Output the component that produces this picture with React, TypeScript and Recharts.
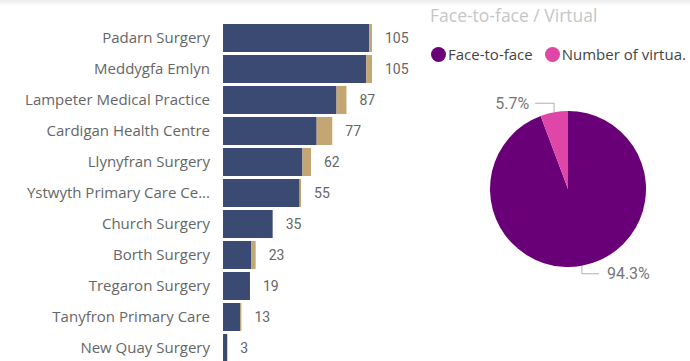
import { BarChart, Bar, XAxis, YAxis, LabelList, PieChart, Pie, Cell, Legend } from "recharts"

const practices = [
  "Padarn Surgery",
  "Meddygfa Emlyn",
  "Lampeter Medical Practice",
  "Cardigan Health Centre",
  "Llynyfran Surgery",
  "Ystwyth Primary Care Ce...",
  "Church Surgery",
  "Borth Surgery",
  "Tregaron Surgery",
  "Tanyfron Primary Care",
  "New Quay Surgery",
]
const faceToFaceCounts = [103, 101, 80, 66, 56, 54, 35, 20, 19, 12, 3]
const virtualCounts = [2, 4, 7, 11, 6, 1, 0, 3, 0, 1, 0]

const pieNames = ["Face-to-face", "Number of virtua."]
const pieValues = [94.3, 5.7]

const NAVY = "#3b4a72"
const TAN = "#c4a673"
const PURPLE = "#6a0078"
const PINK = "#e046a8"
const LABEL_FONT = "Roboto, 'DejaVu Sans', sans-serif"
const TEXT_FONT = "'Open Sans', 'Noto Sans', sans-serif"

const barData = practices.map((name, i) => ({
  name,
  faceToFace: faceToFaceCounts[i],
  virtual: virtualCounts[i],
  total: faceToFaceCounts[i] + virtualCounts[i],
}))

const pieData = pieNames.map((name, i) => ({ name, value: pieValues[i] }))
const pieColors = [PURPLE, PINK]

// total label sits past the whole stack, so scale the navy segment up to the total
function TotalLabel(props: any) {
  const { x, y, width, height, value, index } = props
  const base = faceToFaceCounts[index]
  const endX = base > 0 ? x + (width * value) / base : x + width
  return (
    <text
      x={endX + 13}
      y={y + height / 2}
      dy={5}
      fill="#666"
      fontSize={14}
      fontFamily={LABEL_FONT}
    >
      {value}
    </text>
  )
}

function renderPieLabel(props: any) {
  const { cx, cy, midAngle, outerRadius, percent } = props
  const rad = Math.PI / 180
  const cos = Math.cos(-midAngle * rad)
  const sin = Math.sin(-midAngle * rad)
  const sx = cx + outerRadius * cos
  const sy = cy + outerRadius * sin
  const my = sy + (sin < 0 ? -9 : 8)
  const ex = sx + (cos < 0 ? -19 : 17)
  const tx = ex + (cos < 0 ? -6 : 8)
  return (
    <g>
      <polyline
        points={`${sx},${sy} ${sx},${my} ${ex},${my}`}
        fill="none"
        stroke="#b0b0b0"
        strokeWidth={1}
      />
      <text
        x={tx}
        y={my}
        dy={5.5}
        textAnchor={cos < 0 ? "end" : "start"}
        fill="#777"
        fontSize={16}
        fontFamily={LABEL_FONT}
      >
        {`${(percent * 100).toFixed(1)}%`}
      </text>
    </g>
  )
}

function PieLegend() {
  return (
    <div style={{ display: "flex", alignItems: "center", fontFamily: TEXT_FONT, fontSize: 15, color: "#444", whiteSpace: "nowrap" }}>
      {pieNames.map((name, i) => (
        <div key={name} style={{ display: "flex", alignItems: "center", marginRight: 12 }}>
          <span
            style={{
              display: "inline-block",
              width: 15,
              height: 15,
              borderRadius: "50%",
              background: pieColors[i],
              marginRight: 2,
            }}
          />
          <span>{name}</span>
        </div>
      ))}
    </div>
  )
}

export default function App() {
  return (
    <div
      style={{
        position: "absolute",
        left: 0,
        top: 0,
        width: 690,
        height: 361,
        overflow: "hidden",
        background: "#fff",
      }}
    >
      <div
        style={{
          position: "absolute",
          left: 0,
          top: 0,
          width: 690,
          height: 6,
          background: "linear-gradient(#ececec, #fff)",
        }}
      />
      <div style={{ position: "absolute", left: 0, top: 0 }}>
        <BarChart
          width={430}
          height={363}
          data={barData}
          layout="vertical"
          margin={{ top: 22, right: 58, bottom: 0, left: 0 }}
          barSize={28}
        >
          <XAxis type="number" hide domain={[0, 105]} />
          <YAxis
            type="category"
            dataKey="name"
            width={223}
            axisLine={false}
            tickLine={false}
            tickMargin={7}
            interval={0}
            tick={{ fill: "#666", fontSize: 15, fontFamily: TEXT_FONT }}
          />
          <Bar dataKey="faceToFace" stackId="a" fill={NAVY} isAnimationActive={false}>
            <LabelList dataKey="total" content={<TotalLabel />} />
          </Bar>
          <Bar dataKey="virtual" stackId="a" fill={TAN} isAnimationActive={false} />
        </BarChart>
      </div>
      <div
        style={{
          position: "absolute",
          left: 430,
          top: 3,
          fontFamily: TEXT_FONT,
          fontSize: 17.5,
          color: "#c6c6c6",
        }}
      >
        Face-to-face / Virtual
      </div>
      <div style={{ position: "absolute", left: 430, top: 0 }}>
        <PieChart width={260} height={361} margin={{ top: 0, right: 0, bottom: 0, left: 0 }}>
          <Legend
            verticalAlign="top"
            align="left"
            content={<PieLegend />}
            wrapperStyle={{ top: 44, left: 1 }}
          />
          <Pie
            data={pieData}
            dataKey="value"
            nameKey="name"
            cx={138}
            cy={169}
            outerRadius={78}
            startAngle={90}
            endAngle={-270}
            stroke="none"
            labelLine={false}
            label={renderPieLabel}
            isAnimationActive={false}
          >
            {pieData.map((d, i) => (
              <Cell key={d.name} fill={pieColors[i]} />
            ))}
          </Pie>
        </PieChart>
      </div>
    </div>
  )
}
